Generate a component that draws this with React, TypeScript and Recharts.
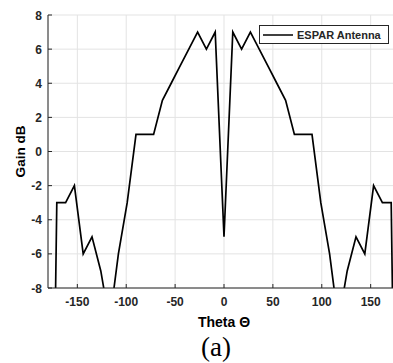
import { CartesianGrid, Legend, Line, LineChart, XAxis, YAxis } from 'recharts';

// Gain pattern sampled every 9 degrees (±180 fall far below the axis floor)
const thetaDeg = [
  -180, -171, -162, -153, -144, -135, -126, -117, -108, -99, -90, -81, -72, -63, -54, -45, -36, -27, -18, -9,
  0, 9, 18, 27, 36, 45, 54, 63, 72, 81, 90, 99, 108, 117, 126, 135, 144, 153, 162, 171, 180,
];
const gainDb = [
  -40, -3, -3, -2, -6, -5, -7, -10, -6, -3, 1, 1, 1, 3, 4, 5, 6, 7, 6, 7,
  -5, 7, 6, 7, 6, 5, 4, 3, 1, 1, 1, -3, -6, -10, -7, -5, -6, -2, -3, -3, -40,
];
const xTicks = [-150, -100, -50, 0, 50, 100, 150];
const yTicks = [-8, -6, -4, -2, 0, 2, 4, 6, 8];
const seriesName = 'ESPAR Antenna';

const chartData = thetaDeg.map((theta, i) => ({ theta, gain: gainDb[i] }));

const AXIS = '#262626';
const FONT = '"Liberation Sans", Arial, Helvetica, sans-serif';

function BottomTick(props: any) {
  const { x, y, payload } = props;
  return (
    <g>
      <line x1={x} x2={x} y1={y - 8} y2={y - 12} stroke={AXIS} strokeWidth={1} />
      <text x={x} y={y + 10} textAnchor="middle" fontFamily={FONT} fontWeight="bold" fontSize={12} fill={AXIS}>
        {payload.value}
      </text>
    </g>
  );
}

function TopTick(props: any) {
  const { x, y } = props;
  return <line x1={x} x2={x} y1={y} y2={y + 4} stroke={AXIS} strokeWidth={1} />;
}

function LeftTick(props: any) {
  const { x, y, payload } = props;
  return (
    <g>
      <line x1={x + 6} x2={x + 10} y1={y} y2={y} stroke={AXIS} strokeWidth={1} />
      <text x={x} y={y + 4.5} textAnchor="end" fontFamily={FONT} fontWeight="bold" fontSize={12} fill={AXIS}>
        {payload.value}
      </text>
    </g>
  );
}

function XTitle(props: any) {
  const vb = props.viewBox || { x: 48, y: 288, width: 352, height: 75 };
  const cx = vb.x + vb.width / 2;
  return (
    <g>
      <text x={cx} y={vb.y + 39} textAnchor="middle" fontFamily={FONT} fontWeight="bold" fontSize={14} fill="#000">
        Theta Θ
      </text>
      <text x={cx - 8} y={vb.y + 68} textAnchor="middle" fontFamily='"Liberation Serif", "Times New Roman", serif' fontSize={27} fill="#000">
        (a)
      </text>
    </g>
  );
}

function YTitle(props: any) {
  const vb = props.viewBox || { x: 0, y: 15, width: 48, height: 273 };
  const cx = vb.x + 20;
  const cy = vb.y + vb.height / 2;
  return (
    <text
      x={cx}
      y={cy}
      transform={`rotate(-90 ${cx} ${cy})`}
      textAnchor="middle"
      dominantBaseline="central"
      fontFamily={FONT}
      fontWeight="bold"
      fontSize={13.5}
      fill="#000"
    >
      Gain dB
    </text>
  );
}

function LegendBox() {
  return (
    <div
      style={{
        width: 130,
        height: 19,
        boxSizing: 'border-box',
        border: `1px solid ${AXIS}`,
        background: '#fff',
        display: 'flex',
        alignItems: 'center',
        paddingLeft: 3,
      }}
    >
      <svg width={30} height={4} style={{ display: 'block' }}>
        <line x1={0} x2={30} y1={2} y2={2} stroke="#000" strokeWidth={1.5} />
      </svg>
      <span style={{ marginLeft: 4, fontFamily: FONT, fontWeight: 'bold', fontSize: 11, color: AXIS, whiteSpace: 'nowrap' }}>
        {seriesName}
      </span>
    </div>
  );
}

export default function App() {
  return (
    <div style={{ position: 'absolute', left: 0, top: 0, width: 393, height: 363, overflow: 'hidden', background: '#fff' }}>
      <LineChart width={400} height={363} data={chartData} margin={{ top: 15, right: 0, bottom: 0, left: 0 }}>
        <CartesianGrid stroke="#e3e3e3" strokeWidth={1} />
        <XAxis
          dataKey="theta"
          type="number"
          domain={[-180, 180]}
          ticks={xTicks}
          allowDataOverflow
          height={75}
          tickSize={0}
          tickMargin={8}
          tickLine={false}
          axisLine={{ stroke: AXIS, strokeWidth: 1 }}
          tick={<BottomTick />}
          interval={0}
          label={{ content: <XTitle /> }}
        />
        <XAxis
          xAxisId="top"
          orientation="top"
          dataKey="theta"
          type="number"
          domain={[-180, 180]}
          ticks={xTicks}
          height={0}
          tickSize={0}
          tickMargin={0}
          tickLine={false}
          axisLine={{ stroke: AXIS, strokeWidth: 1 }}
          tick={<TopTick />}
          interval={0}
        />
        <YAxis
          type="number"
          domain={[-8, 8]}
          ticks={yTicks}
          allowDataOverflow
          width={48}
          tickSize={0}
          tickMargin={6}
          tickLine={false}
          axisLine={{ stroke: AXIS, strokeWidth: 1 }}
          tick={<LeftTick />}
          interval={0}
          label={{ content: <YTitle /> }}
        />
        <Legend
          layout="vertical"
          align="center"
          verticalAlign="middle"
          wrapperStyle={{ top: 25, left: 259, width: 130, height: 19 }}
          content={<LegendBox />}
        />
        <Line
          dataKey="gain"
          name={seriesName}
          type="linear"
          stroke="#000"
          strokeWidth={1.7}
          dot={false}
          activeDot={false}
          isAnimationActive={false}
        />
      </LineChart>
    </div>
  );
}
